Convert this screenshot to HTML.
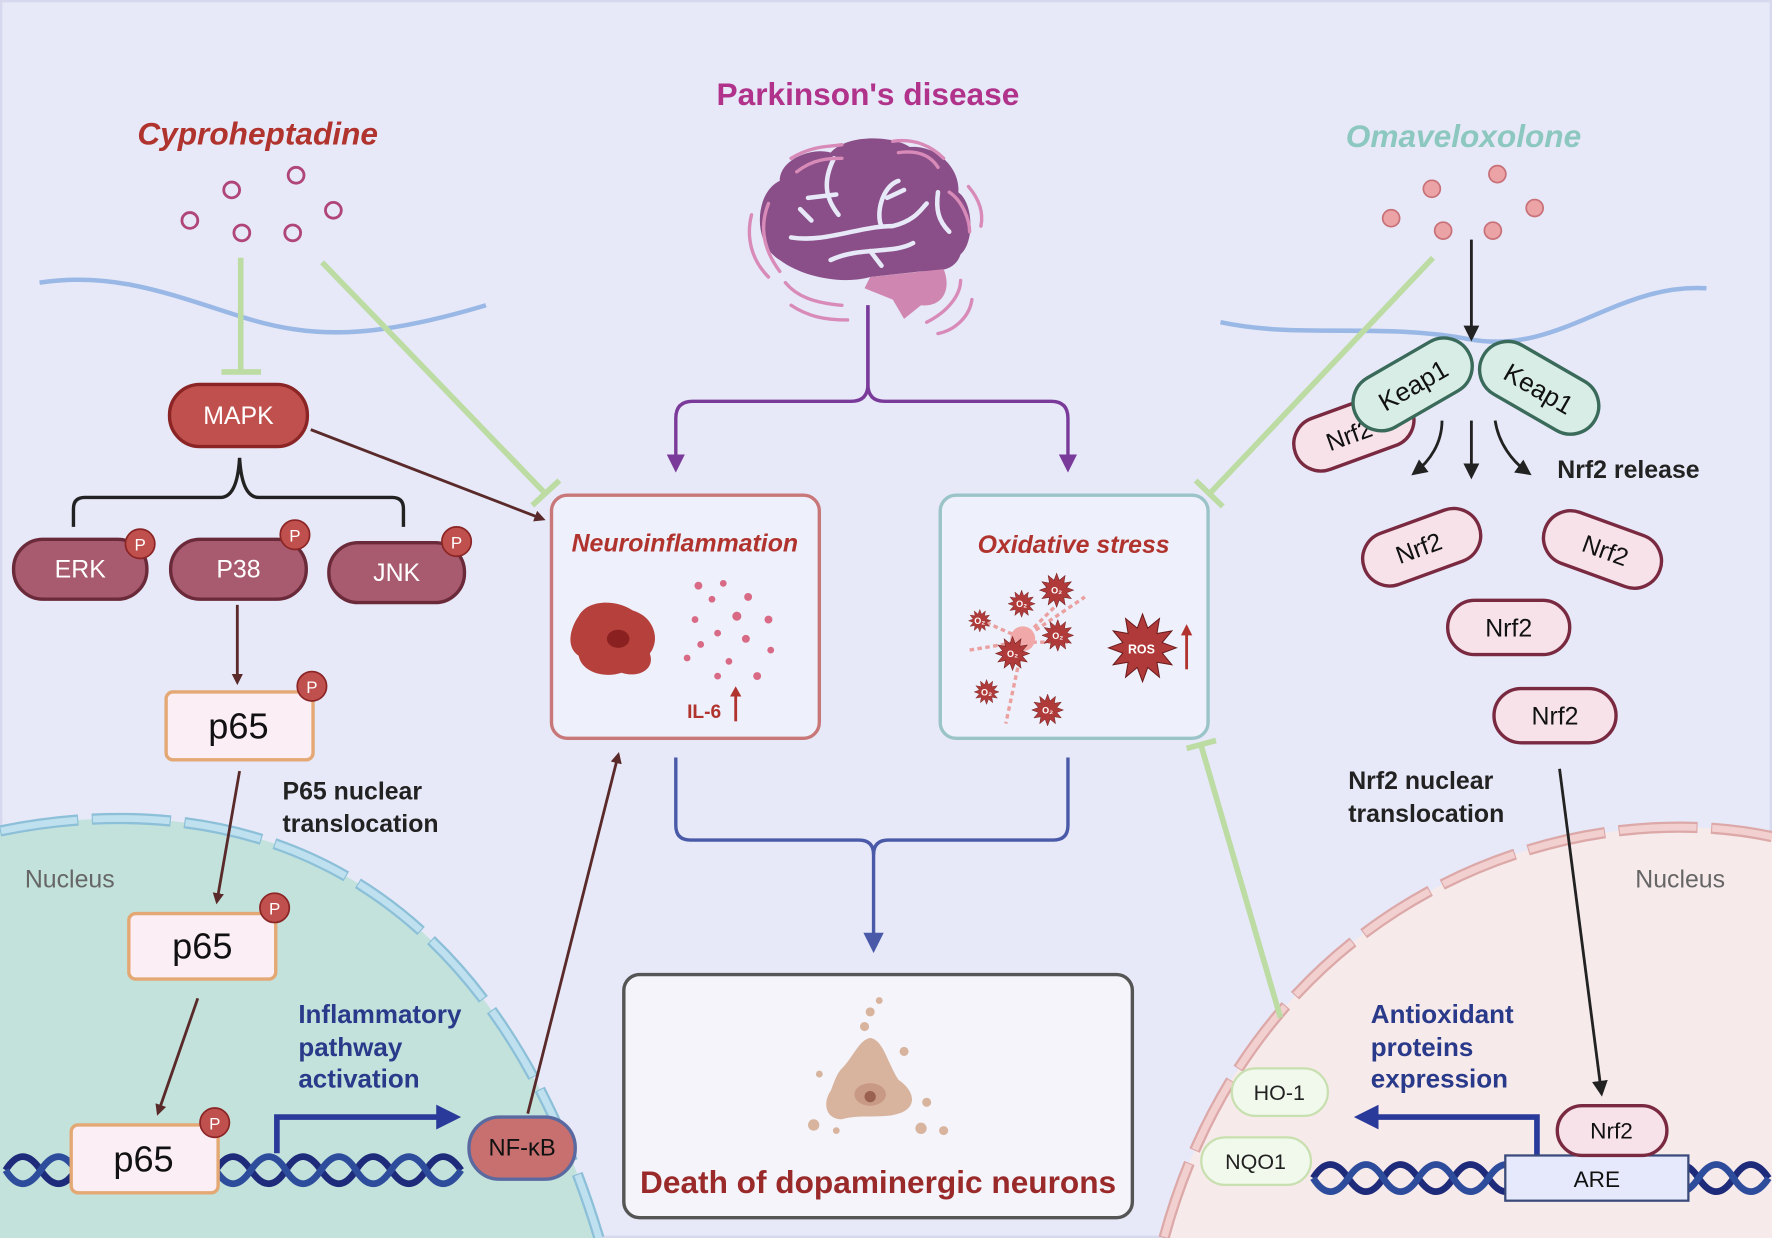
<!DOCTYPE html>
<html><head><meta charset="utf-8"><style>
html,body{margin:0;padding:0;background:#e7e9f8;}
svg{display:block;}
text{font-family:"Liberation Sans",Arial,sans-serif;}
</style></head><body>
<svg width="1772" height="1238" viewBox="0 0 1568 1095" preserveAspectRatio="none" xmlns="http://www.w3.org/2000/svg">
<defs>
<polygon id="st" points="10,0 5.8,1.55 8.66,5 4.24,4.24 5,8.66 1.55,5.8 0,10 -1.55,5.8 -5,8.66 -4.24,4.24 -8.66,5 -5.8,1.55 -10,0 -5.8,-1.55 -8.66,-5 -4.24,-4.24 -5,-8.66 -1.55,-5.8 0,-10 1.55,-5.8 5,-8.66 4.24,-4.24 8.66,-5 5.8,-1.55"/>
<marker id="ab" markerWidth="10" markerHeight="10" refX="7" refY="5" orient="auto" markerUnits="userSpaceOnUse"><path d="M0,0 L10,5 L0,10 Z" fill="#5a2a2a"/></marker>
<marker id="ak" markerWidth="14" markerHeight="14" refX="10" refY="7" orient="auto" markerUnits="userSpaceOnUse"><path d="M0,0 L14,7 L0,14 Z" fill="#222"/></marker>
<marker id="ap" markerWidth="16" markerHeight="16" refX="10" refY="8" orient="auto" markerUnits="userSpaceOnUse"><path d="M0,0 L16,8 L0,16 Z" fill="#7a3a9a"/></marker>
<marker id="abl" markerWidth="18" markerHeight="18" refX="10" refY="9" orient="auto" markerUnits="userSpaceOnUse"><path d="M0,0 L18,9 L0,18 Z" fill="#4a5aa8"/></marker>
<marker id="adb" markerWidth="22" markerHeight="22" refX="12" refY="11" orient="auto" markerUnits="userSpaceOnUse"><path d="M0,0 L22,11 L0,22 Z" fill="#2a3a9a"/></marker>
</defs>
<rect x="1" y="1" width="1566" height="1093" fill="#e7e9f8" stroke="#d6d9ee" stroke-width="2"/>

<!-- nuclei -->
<path d="M0,735 C170,700 420,730 530,1095 L0,1095 Z" fill="#c3e2dc"/>
<path d="M0,735 C170,700 420,730 530,1095" fill="none" stroke="#8cbfd8" stroke-width="10" stroke-dasharray="70,12"/>
<path d="M0,735 C170,700 420,730 530,1095" fill="none" stroke="#bfe0ee" stroke-width="6" stroke-dasharray="68,14" stroke-dashoffset="-1"/>
<path d="M1030,1095 C1110,800 1380,700 1568,740 L1568,1095 Z" fill="#f7eaea"/>
<path d="M1030,1095 C1110,800 1380,700 1568,740" fill="none" stroke="#dca8a8" stroke-width="10" stroke-dasharray="70,12"/>
<path d="M1030,1095 C1110,800 1380,700 1568,740" fill="none" stroke="#f2d0d0" stroke-width="6" stroke-dasharray="68,14" stroke-dashoffset="-1"/>
<text x="22" y="785" font-size="22" fill="#666">Nucleus</text>
<text x="1447" y="785" font-size="22" fill="#666">Nucleus</text>

<!-- membranes -->
<path d="M35,250 C100,240 150,260 213,280 S330,300 430,270" fill="none" stroke="#9ab8e6" stroke-width="4"/>
<path d="M1080,285 C1150,300 1220,285 1300,300 S1430,250 1510,255" fill="none" stroke="#9ab8e6" stroke-width="4"/>

<!-- titles -->
<text x="228" y="128" font-size="28" font-weight="bold" font-style="italic" fill="#b0332e" text-anchor="middle">Cyproheptadine</text>
<text x="768" y="93" font-size="28" font-weight="bold" fill="#b0328a" text-anchor="middle">Parkinson's disease</text>
<text x="1295" y="130" font-size="28" font-weight="bold" font-style="italic" fill="#8cc8bf" text-anchor="middle">Omaveloxolone</text>

<g fill="none" stroke="#b0457a" stroke-width="2.5">
<circle cx="205" cy="168" r="7"/><circle cx="262" cy="155" r="7"/><circle cx="168" cy="195" r="7"/><circle cx="214" cy="206" r="7"/><circle cx="259" cy="206" r="7"/><circle cx="295" cy="186" r="7"/></g>
<g fill="#eba3a6" stroke="#c87078" stroke-width="1.5">
<circle cx="1267" cy="167" r="7.5"/><circle cx="1325" cy="154" r="7.5"/><circle cx="1231" cy="193" r="7.5"/><circle cx="1277" cy="204" r="7.5"/><circle cx="1321" cy="204" r="7.5"/><circle cx="1358" cy="184" r="7.5"/></g>

<!-- green inhibitors -->
<g stroke="#bcdca4" stroke-width="5" fill="none">
<line x1="213" y1="228" x2="213" y2="328"/><line x1="196" y1="329" x2="231" y2="329"/>
<line x1="285" y1="232" x2="483" y2="437"/><line x1="471" y1="447" x2="495" y2="425"/>
<line x1="1268" y1="228" x2="1070" y2="437"/><line x1="1058" y1="425" x2="1082" y2="448"/>
<line x1="1133" y1="900" x2="1063" y2="660"/><line x1="1050" y1="662" x2="1076" y2="655"/>
</g>

<!-- left pathway -->
<rect x="150" y="340" width="122" height="55" rx="27" fill="#c0504d" stroke="#8b2525" stroke-width="3"/>
<text x="211" y="375" font-size="22" fill="#fff" text-anchor="middle">MAPK</text>
<path d="M65,466 V450 Q65,440 75,440 H195 Q210,440 212,405 Q214,440 229,440 H347 Q357,440 357,450 V466" fill="none" stroke="#222" stroke-width="3"/>
<g stroke="#6b2a3a" stroke-width="3" fill="#a85a6e">
<rect x="12" y="477" width="118" height="53" rx="26"/><rect x="151" y="477" width="120" height="53" rx="26"/><rect x="291" y="480" width="120" height="53" rx="26"/></g>
<g font-size="22" fill="#fff" text-anchor="middle"><text x="71" y="511">ERK</text><text x="211" y="511">P38</text><text x="351" y="514">JNK</text></g>
<g stroke="#5a2a2a" stroke-width="2.5" marker-end="url(#ab)">
<line x1="210" y1="535" x2="210" y2="603"/><line x1="212" y1="682" x2="192" y2="797"/><line x1="175" y1="883" x2="140" y2="984"/><line x1="275" y1="380" x2="480" y2="459"/><line x1="467" y1="985" x2="547" y2="668"/></g>

<path d="M5,1035 q15,-24 31,0 t31,0 t31,0 t31,0 t31,0 t31,0 t31,0 t31,0 t31,0 t31,0 t31,0 t31,0 t31,0" fill="none" stroke="#1e2a7a" stroke-width="6"/>
<path d="M5,1035 q15,24 31,0 t31,0 t31,0 t31,0 t31,0 t31,0 t31,0 t31,0 t31,0 t31,0 t31,0 t31,0 t31,0" fill="none" stroke="#2e4c9c" stroke-width="6"/>

<g fill="#fbeef5" stroke="#e4a874" stroke-width="3">
<rect x="147" y="612" width="130" height="60" rx="6"/><rect x="114" y="808" width="130" height="58" rx="6"/><rect x="63" y="995" width="130" height="60" rx="6"/></g>
<g font-size="32" fill="#111" text-anchor="middle"><text x="211" y="653">p65</text><text x="179" y="848">p65</text><text x="127" y="1036">p65</text></g>
<g fill="#c0504d" stroke="#8b2525" stroke-width="1.5"><circle cx="124" cy="481" r="13"/><circle cx="261" cy="473" r="13"/><circle cx="404" cy="479" r="13"/><circle cx="276" cy="607" r="13"/><circle cx="243" cy="803" r="13"/><circle cx="190" cy="993" r="13"/></g>
<g font-size="15" fill="#fff" text-anchor="middle"><text x="124" y="487">P</text><text x="261" y="479">P</text><text x="404" y="485">P</text><text x="276" y="613">P</text><text x="243" y="809">P</text><text x="190" y="999">P</text></g>
<text x="250" y="707" font-size="22" font-weight="bold" fill="#222">P65 nuclear</text>
<text x="250" y="736" font-size="22" font-weight="bold" fill="#222">translocation</text>
<g font-size="23" font-weight="bold" fill="#2a3a8a"><text x="264" y="905">Inflammatory</text><text x="264" y="934">pathway</text><text x="264" y="962">activation</text></g>
<path d="M245,1020 V988 H398" fill="none" stroke="#2a3a9a" stroke-width="5" marker-end="url(#adb)"/>
<rect x="415" y="988" width="94" height="55" rx="27" fill="#c87070" stroke="#5a6aa0" stroke-width="3"/>
<text x="462" y="1022" font-size="21" fill="#111" text-anchor="middle">NF-κB</text>

<!-- brain -->
<g>
<path d="M690,230 C665,215 668,170 690,160 C690,140 720,130 735,135 C750,118 790,120 805,130 C830,128 850,150 848,170 C862,180 862,215 850,225 C845,240 830,240 815,240 L770,245 C745,252 710,245 690,230 Z" fill="#8a4f88"/>
<path d="M770,245 L835,238 C842,255 835,272 815,270 L800,282 L790,265 L765,255 Z" fill="#cf86b0"/>
<g fill="none" stroke="#e7e9f8" stroke-width="4" stroke-linecap="round">
<path d="M700,210 C730,215 760,200 790,200 C810,195 815,185 820,180"/>
<path d="M738,140 C728,160 730,175 742,190"/><path d="M715,175 L740,172"/>
<path d="M795,160 C780,165 775,190 780,200"/><path d="M785,175 L800,168"/>
<path d="M830,170 C828,185 830,195 840,205"/>
<path d="M735,230 C760,218 790,225 808,215"/><path d="M770,222 L780,235"/>
<path d="M708,185 L718,195"/>
</g>
<g fill="none" stroke="#d88ab8" stroke-width="3" stroke-linecap="round">
<path d="M700,140 C720,128 735,130 745,128"/><path d="M705,152 C720,140 735,140 745,140"/>
<path d="M790,125 C810,122 825,130 835,140"/><path d="M795,135 C815,132 825,140 830,148"/>
<path d="M840,170 C852,178 858,195 858,205"/><path d="M857,165 C868,178 870,190 868,200"/>
<path d="M665,190 C660,210 665,230 680,245"/><path d="M680,180 C672,200 675,220 690,240"/>
<path d="M695,250 C705,262 720,268 745,270"/><path d="M700,270 C715,280 730,283 750,283"/>
<path d="M850,248 C850,260 840,275 820,285"/><path d="M860,265 C858,280 845,292 830,295"/>
</g>
</g>

<!-- purple connectors -->
<path d="M768,270 V340 Q768,355 753,355 H613 Q598,355 598,370 V412" fill="none" stroke="#7a3a9a" stroke-width="3" marker-end="url(#ap)"/>
<path d="M768,270 V340 Q768,355 783,355 H930 Q945,355 945,370 V412" fill="none" stroke="#7a3a9a" stroke-width="3" marker-end="url(#ap)"/>

<!-- Neuroinflammation -->
<rect x="488" y="438" width="237" height="215" rx="14" fill="#eef0fb" stroke="#c87878" stroke-width="3"/>
<text x="606" y="488" font-size="22" font-weight="bold" font-style="italic" fill="#b0332e" text-anchor="middle">Neuroinflammation</text>
<path d="M512,545 C520,530 545,530 560,540 C578,545 585,565 575,578 C580,592 565,600 550,595 C535,600 515,595 512,580 C500,572 505,555 512,545 Z" fill="#b5403c"/>
<ellipse cx="547" cy="565" rx="10" ry="8" fill="#8a2020"/>
<g fill="#d86a85"><circle cx="618" cy="518" r="3.5"/><circle cx="640" cy="516" r="3"/><circle cx="662" cy="528" r="3.5"/><circle cx="630" cy="530" r="3"/><circle cx="652" cy="545" r="4"/><circle cx="615" cy="548" r="3"/><circle cx="680" cy="548" r="3.5"/><circle cx="635" cy="560" r="3"/><circle cx="660" cy="565" r="3.5"/><circle cx="620" cy="570" r="3"/><circle cx="682" cy="575" r="3"/><circle cx="608" cy="582" r="3"/><circle cx="645" cy="585" r="3"/><circle cx="670" cy="598" r="3.5"/><circle cx="635" cy="598" r="3"/></g>
<text x="608" y="635" font-size="17" font-weight="bold" fill="#b0332e">IL-6</text>
<line x1="651" y1="638" x2="651" y2="614" stroke="#b0332e" stroke-width="2.5"/><path d="M646,616 L651,607 L656,616 Z" fill="#b0332e"/>

<!-- Oxidative stress -->
<rect x="832" y="438" width="237" height="215" rx="14" fill="#eef0fb" stroke="#9ac4c8" stroke-width="3"/>
<text x="950" y="489" font-size="22" font-weight="bold" font-style="italic" fill="#b0332e" text-anchor="middle">Oxidative stress</text>
<g fill="none" stroke="#eba0a0" stroke-width="3" stroke-dasharray="4,3">
<path d="M860,545 L905,565 L960,528"/><path d="M858,575 L900,568 L945,568"/><path d="M905,570 L890,640"/><path d="M910,560 L935,535"/></g>
<circle cx="905" cy="565" r="11" fill="#f0a8a8"/>
<g fill="#b03a3a" stroke="#6a1a1a" stroke-width="0.3">
<use href="#st" transform="translate(867,549) scale(1)"/>
<use href="#st" transform="translate(904,534) scale(1.2)"/>
<use href="#st" transform="translate(935,522) scale(1.5)"/>
<use href="#st" transform="translate(936,562) scale(1.4)"/>
<use href="#st" transform="translate(896,578) scale(1.5)"/>
<use href="#st" transform="translate(873,612) scale(1.1)"/>
<use href="#st" transform="translate(927,628) scale(1.4)"/>
<use href="#st" transform="translate(1011,573) scale(3)"/>
</g>
<g fill="#fff" font-size="8" font-weight="bold" text-anchor="middle"><text x="904" y="537">O₂</text><text x="935" y="525">O₂</text><text x="936" y="565">O₂</text><text x="896" y="581">O₂</text><text x="927" y="631">O₂</text><text x="867" y="552">O₂</text><text x="873" y="615">O₂</text></g>
<text x="1010" y="578" font-size="11" font-weight="bold" fill="#fff" text-anchor="middle">ROS</text>
<line x1="1050" y1="592" x2="1050" y2="560" stroke="#b0332e" stroke-width="2.5"/><path d="M1045,562 L1050,552 L1055,562 Z" fill="#b0332e"/>

<!-- blue merge -->
<path d="M598,670 V730 Q598,743 611,743 H760 Q773,743 773,756 V835" fill="none" stroke="#4a5aa8" stroke-width="3" marker-end="url(#abl)"/>
<path d="M945,670 V730 Q945,743 932,743 H786 Q773,743 773,756" fill="none" stroke="#4a5aa8" stroke-width="3"/>

<!-- death box -->
<rect x="552" y="862" width="450" height="215" rx="14" fill="#f4f4fa" stroke="#555" stroke-width="3"/>
<path d="M745,945 C755,935 760,920 770,918 C782,920 785,940 795,955 C810,965 812,980 795,985 C780,990 760,985 745,990 C730,990 728,975 735,965 C738,958 740,950 745,945 Z" fill="#d8b49e"/>
<ellipse cx="770" cy="968" rx="14" ry="10" fill="#c89a86"/><circle cx="770" cy="970" r="5" fill="#9a6050"/>
<g fill="#d8b49e"><circle cx="770" cy="895" r="4"/><circle cx="778" cy="885" r="3"/><circle cx="765" cy="908" r="4"/><circle cx="800" cy="930" r="4"/><circle cx="820" cy="975" r="4"/><circle cx="835" cy="1000" r="4"/><circle cx="815" cy="998" r="5"/><circle cx="720" cy="995" r="5"/><circle cx="740" cy="1000" r="3"/><circle cx="725" cy="950" r="3"/></g>
<text x="777" y="1055" font-size="28" font-weight="bold" fill="#9a2a2a" text-anchor="middle">Death of dopaminergic neurons</text>

<!-- right pathway -->
<line x1="1302" y1="212" x2="1302" y2="298" stroke="#222" stroke-width="2.5" marker-end="url(#ak)"/>
<g transform="translate(1198,382) rotate(-20)"><rect x="-55" y="-24" width="110" height="48" rx="24" fill="#f7e2ea" stroke="#7a2a40" stroke-width="3"/><text x="-5" y="9" font-size="22" fill="#111" text-anchor="middle">Nrf2</text></g>
<g transform="translate(1250,340) rotate(-30)"><rect x="-57" y="-25" width="114" height="50" rx="25" fill="#d8ede6" stroke="#3a6a5a" stroke-width="3"/><text x="0" y="9" font-size="23" fill="#111" text-anchor="middle">Keap1</text></g>
<g transform="translate(1362,343) rotate(30)"><rect x="-57" y="-25" width="114" height="50" rx="25" fill="#d8ede6" stroke="#3a6a5a" stroke-width="3"/><text x="0" y="9" font-size="23" fill="#111" text-anchor="middle">Keap1</text></g>
<g fill="none" stroke="#222" stroke-width="2.5" marker-end="url(#ak)">
<path d="M1276,372 C1276,392 1265,408 1252,418"/><line x1="1302" y1="372" x2="1302" y2="420"/><path d="M1323,372 C1326,392 1338,408 1352,418"/></g>
<text x="1378" y="423" font-size="22" font-weight="bold" fill="#222">Nrf2 release</text>
<g fill="#f7e2ea" stroke="#7a2a40" stroke-width="3">
<g transform="translate(1258,484) rotate(-20)"><rect x="-54" y="-24" width="108" height="48" rx="24"/></g>
<g transform="translate(1418,486) rotate(20)"><rect x="-54" y="-24" width="108" height="48" rx="24"/></g>
<rect x="1281" y="531" width="108" height="48" rx="24"/>
<rect x="1322" y="609" width="108" height="48" rx="24"/>
</g>
<g font-size="22" fill="#111" text-anchor="middle">
<text transform="translate(1258,492) rotate(-20)">Nrf2</text>
<text transform="translate(1418,494) rotate(20)">Nrf2</text>
<text x="1335" y="563">Nrf2</text><text x="1376" y="641">Nrf2</text></g>
<text x="1193" y="698" font-size="22" font-weight="bold" fill="#222">Nrf2 nuclear</text>
<text x="1193" y="727" font-size="22" font-weight="bold" fill="#222">translocation</text>
<line x1="1380" y1="680" x2="1417" y2="966" stroke="#222" stroke-width="2.5" marker-end="url(#ak)"/>
<g font-size="23" font-weight="bold" fill="#2a3a8a"><text x="1213" y="905">Antioxidant</text><text x="1213" y="934">proteins</text><text x="1213" y="962">expression</text></g>

<path d="M1162,1042 q15,-24 31,0 t31,0 t31,0 t31,0 t31,0 t31,0 t31,0 t31,0 t31,0 t31,0 t31,0 t31,0 t31,0" fill="none" stroke="#1e2a7a" stroke-width="6"/>
<path d="M1162,1042 q15,24 31,0 t31,0 t31,0 t31,0 t31,0 t31,0 t31,0 t31,0 t31,0 t31,0 t31,0 t31,0 t31,0" fill="none" stroke="#2e4c9c" stroke-width="6"/>
<path d="M1360,1022 V988 H1208" fill="none" stroke="#2a3a9a" stroke-width="5" marker-end="url(#adb)"/>
<rect x="1332" y="1022" width="162" height="40" fill="#e6e9fb" stroke="#3a4a7a" stroke-width="2"/>
<text x="1413" y="1050" font-size="20" fill="#111" text-anchor="middle">ARE</text>
<rect x="1378" y="978" width="97" height="44" rx="22" fill="#f7e2ea" stroke="#7a2a40" stroke-width="3"/>
<text x="1426" y="1007" font-size="20" fill="#111" text-anchor="middle">Nrf2</text>
<rect x="1090" y="945" width="85" height="42" rx="21" fill="#f1f8ec" stroke="#c8e0b0" stroke-width="2"/>
<text x="1132" y="973" font-size="19" fill="#222" text-anchor="middle">HO-1</text>
<rect x="1063" y="1006" width="97" height="42" rx="21" fill="#f1f8ec" stroke="#c8e0b0" stroke-width="2"/>
<text x="1111" y="1034" font-size="19" fill="#222" text-anchor="middle">NQO1</text>
</svg>
</body></html>
